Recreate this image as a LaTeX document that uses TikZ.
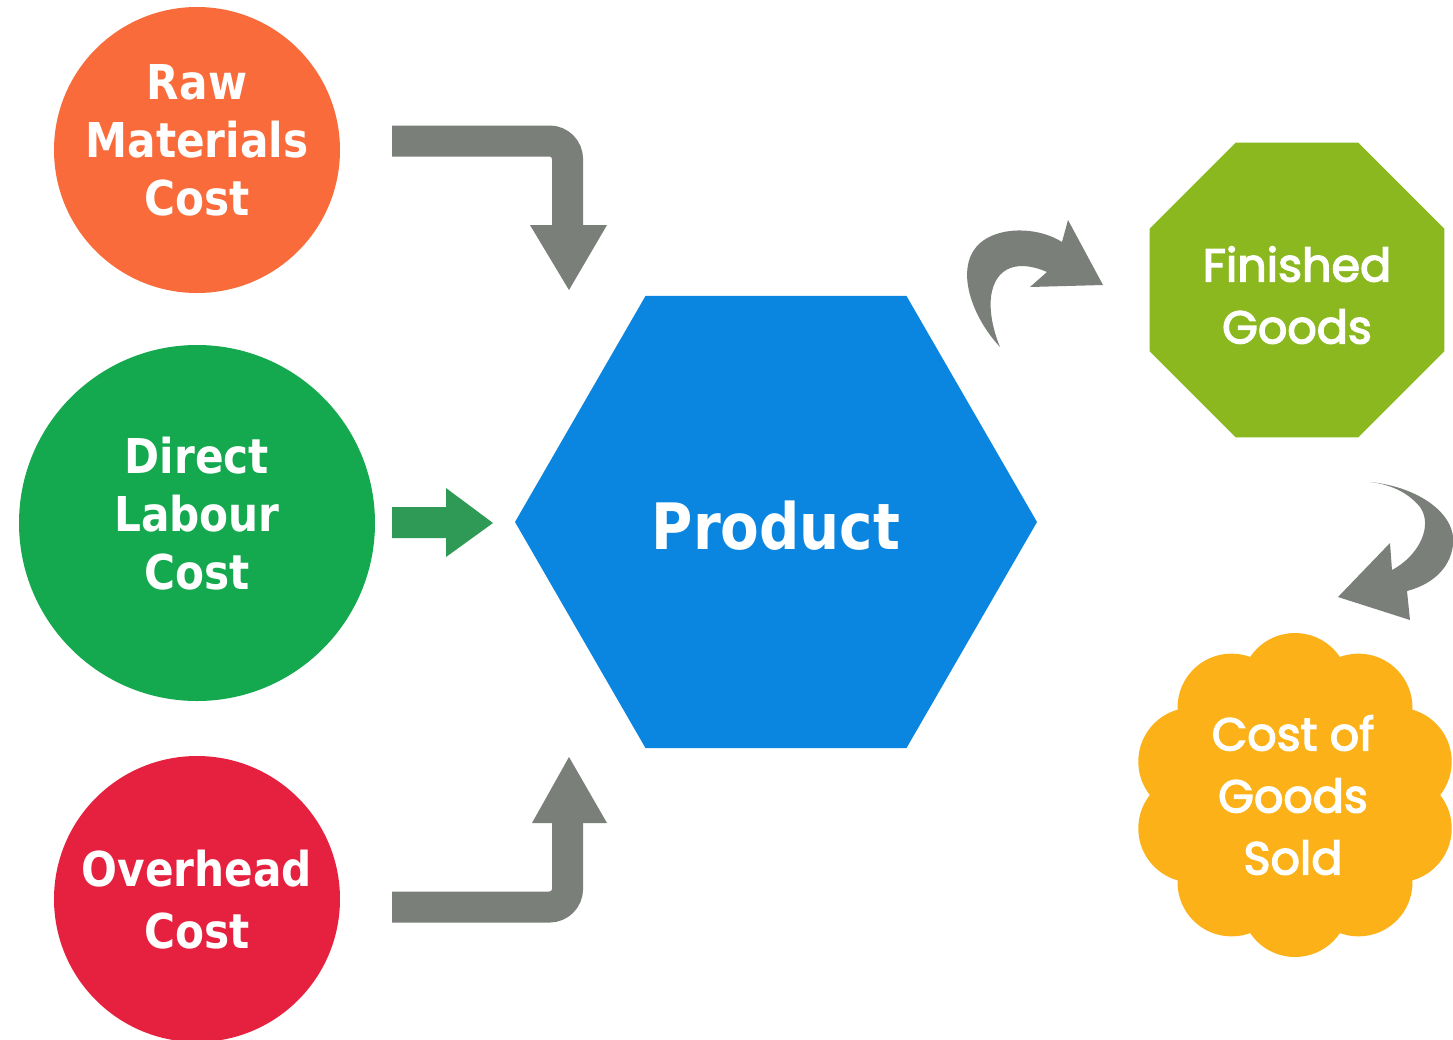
\documentclass[tikz,border=0pt]{standalone}
\usepackage{fontspec}
\usetikzlibrary{shapes.geometric}
\newfontfamily\lblfont{DejaVu Sans Bold}[FakeStretch=0.88]
\newfontfamily\geofont{Poppins}[FakeBold=3]
\definecolor{rawc}{HTML}{F96B3A}
\definecolor{labc}{HTML}{14A84F}
\definecolor{ovc}{HTML}{E6213F}
\definecolor{prodc}{HTML}{0B86E0}
\definecolor{fgc}{HTML}{8AB81E}
\definecolor{cogc}{HTML}{FBB117}
\definecolor{arrgray}{HTML}{7A7F7A}
\definecolor{arrgreen}{HTML}{2E9A55}
\newcommand\liftbox[2]{\raisebox{#1}[\height][\depth]{\begin{tabular}{@{}c@{}}#2\end{tabular}}}
\tikzset{
  costcircle/.style={circle, minimum size=#1, inner sep=0pt, text=white,
    font=\lblfont\fontsize{24}{29}\selectfont},
  geotext/.style={text=white, font=\geofont\fontsize{23}{31}\selectfont},
  blockarrow/.style={draw=arrgray, line width=15.5pt, rounded corners=9pt},
  arrowhead/.style={fill=arrgray}
}
\begin{document}
\begin{tikzpicture}[x=0.5pt,y=-0.5pt]
\useasboundingbox (0,0) rectangle (1453,1040);
\fill[white] (0,0) rectangle (1453,1040);

% cost circles
\node[costcircle=143pt, fill=rawc] (raw) at (197,150) {\liftbox{2pt}{Raw\\Materials\\Cost}};
\node[costcircle=178pt, fill=labc] (lab) at (197,523) {\liftbox{1.5pt}{Direct\\Labour\\Cost}};
\node[costcircle=143pt, fill=ovc, font=\lblfont\fontsize{24}{31}\selectfont] (ovh) at (197,899) {\liftbox{-3pt}{Overhead\\Cost}};

% product hexagon
\node[regular polygon, regular polygon sides=6, minimum size=261pt, inner sep=0pt,
      fill=prodc, text=white, font=\lblfont\fontsize{32}{38}\selectfont] (prod) at (776,522) {\liftbox{-6pt}{Product}};

% finished goods octagon
\node[regular polygon, regular polygon sides=8, minimum size=159.6pt, inner sep=0pt,
      fill=fgc, geotext] (fg) at (1297,290) {\liftbox{-5pt}{Finished\\Goods}};

% cost of goods sold flower
\fill[cogc] (1295,795) circle[radius=55pt];
\foreach \a in {90,126,...,414} {
  \fill[cogc] (1295,795) ++(\a:54pt) circle[radius=27pt];
}
\node[circle, minimum size=160pt, inner sep=0pt, geotext] (cogs) at (1293,797) {\liftbox{-1.5pt}{Cost of\\Goods\\Sold}};

% top bent arrow
\draw[blockarrow] (392,141) -- (567.5,141) -- (567.5,228);
\fill[arrowhead] (530,225) -- (607,225) -- (569,290) -- cycle;

% bottom bent arrow
\draw[blockarrow] (392,907) -- (567.5,907) -- (567.5,820);
\fill[arrowhead] (532,823) -- (607,823) -- (569,757) -- cycle;

% green arrow
\fill[arrgreen] (392,507) -- (446,507) -- (446,488) -- (493,523) -- (446,557) -- (446,538) -- (392,538) -- cycle;

% curved arrow to finished goods
\fill[arrgray] (1000,347) .. controls (970,315) and (952,262) .. (984,240)
  .. controls (1005,226) and (1040,228) .. (1062,242) -- (1068,220) -- (1103,285)
  -- (1030,287) -- (1047,272) .. controls (1020,260) and (995,265) .. (991,297)
  .. controls (989,315) and (995,335) .. (1000,347) -- cycle;

% curved arrow to cost of goods sold
\fill[arrgray] (1370,482) .. controls (1420,487) and (1457,515) .. (1453,545)
  .. controls (1450,570) and (1430,585) .. (1407,591) -- (1410,620) -- (1338,597)
  -- (1390,543) -- (1392,570) .. controls (1420,555) and (1433,525) .. (1420,507)
  .. controls (1410,495) and (1395,485) .. (1370,482) -- cycle;
\end{tikzpicture}
\end{document}
